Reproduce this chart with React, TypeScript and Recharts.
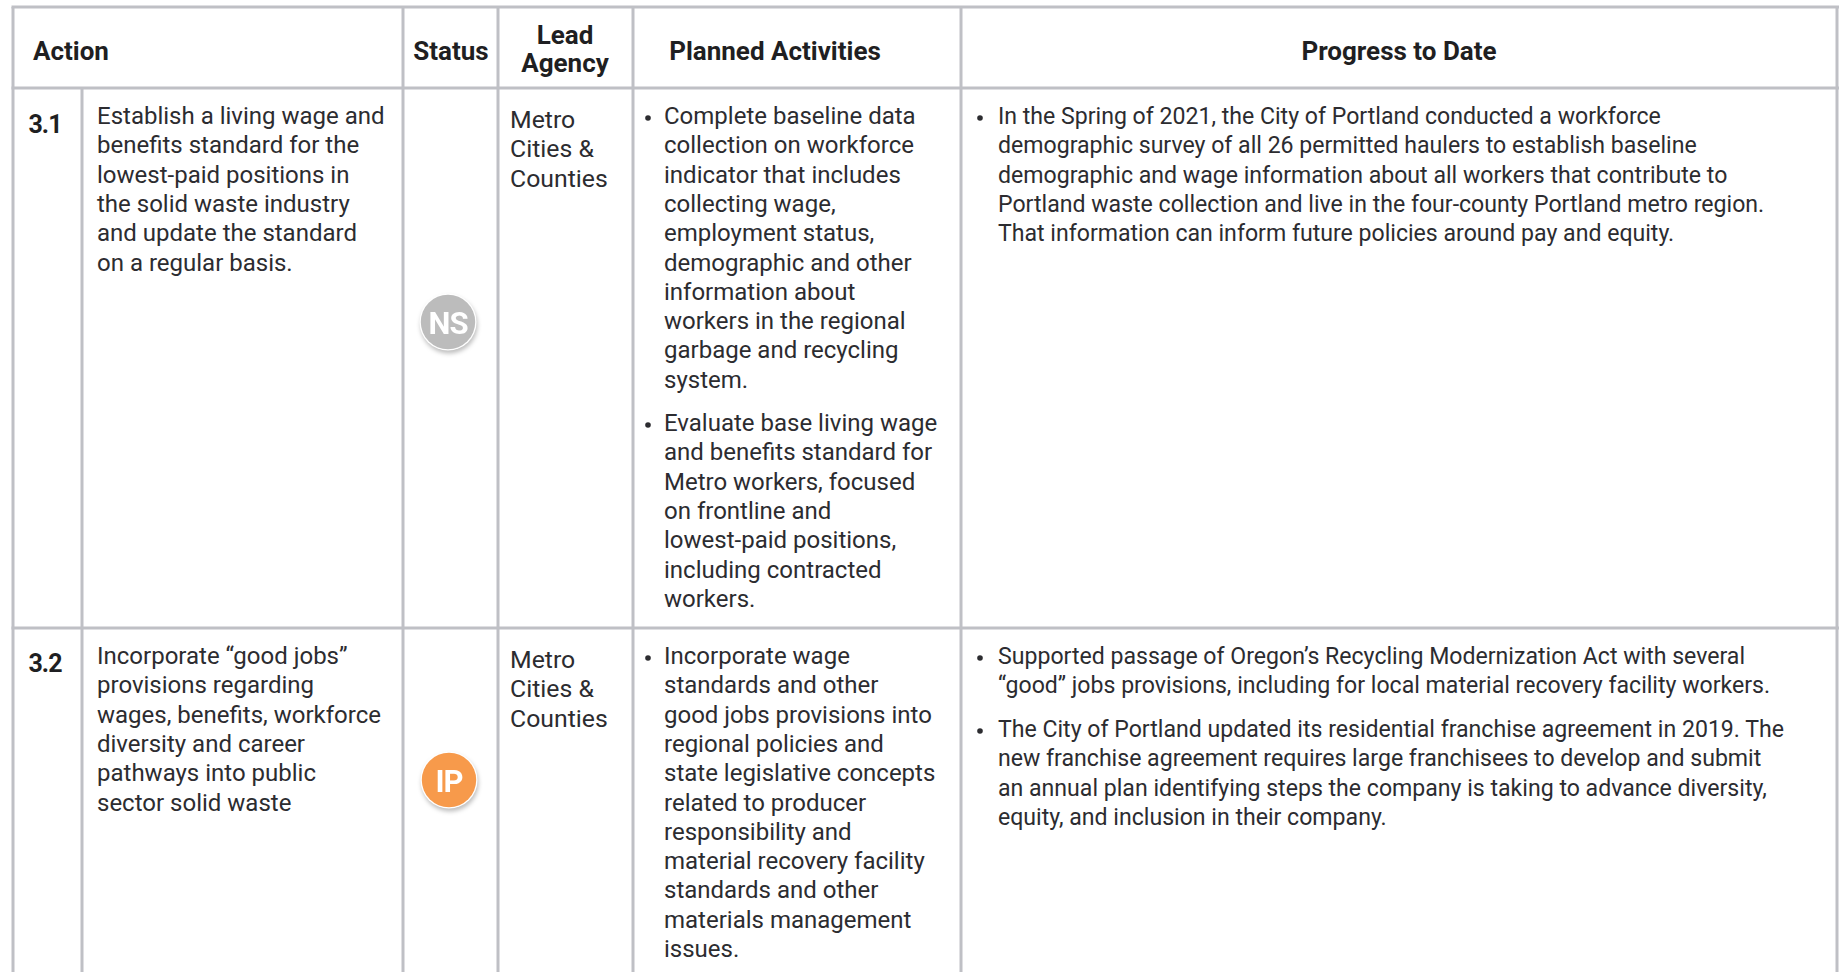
import React from 'react'
import { ComposedChart, Scatter, XAxis, YAxis, ReferenceLine } from 'recharts'

const W = 1839
const H = 972

// table text
const headers = ['Action', 'Status', 'Lead', 'Agency', 'Planned Activities', 'Progress to Date']
const rowIds = ['3.1', '3.2']
const statuses = ['NS', 'IP']
const agencyLines = ['Metro', 'Cities &', 'Counties']

const action31 = [
  'Establish a living wage and',
  'benefits standard for the',
  'lowest-paid positions in',
  'the solid waste industry',
  'and update the standard',
  'on a regular basis.',
]
const action32 = [
  'Incorporate “good jobs”',
  'provisions regarding',
  'wages, benefits, workforce',
  'diversity and career',
  'pathways into public',
  'sector solid waste',
]
const planned31a = [
  'Complete baseline data',
  'collection on workforce',
  'indicator that includes',
  'collecting wage,',
  'employment status,',
  'demographic and other',
  'information about',
  'workers in the regional',
  'garbage and recycling',
  'system.',
]
const planned31b = [
  'Evaluate base living wage',
  'and benefits standard for',
  'Metro workers, focused',
  'on frontline and',
  'lowest-paid positions,',
  'including contracted',
  'workers.',
]
const planned32 = [
  'Incorporate wage',
  'standards and other',
  'good jobs provisions into',
  'regional policies and',
  'state legislative concepts',
  'related to producer',
  'responsibility and',
  'material recovery facility',
  'standards and other',
  'materials management',
  'issues.',
]
const progress31 = [
  'In the Spring of 2021, the City of Portland conducted a workforce',
  'demographic survey of all 26 permitted haulers to establish baseline',
  'demographic and wage information about all workers that contribute to',
  'Portland waste collection and live in the four-county Portland metro region.',
  'That information can inform future policies around pay and equity.',
]
const progress32a = [
  'Supported passage of Oregon’s Recycling Modernization Act with several',
  '“good” jobs provisions, including for local material recovery facility workers.',
]
const progress32b = [
  'The City of Portland updated its residential franchise agreement in 2019. The',
  'new franchise agreement requires large franchisees to develop and submit',
  'an annual plan identifying steps the company is taking to advance diversity,',
  'equity, and inclusion in their company.',
]

// layout of the table
const colX = [13, 403, 498, 633, 961, 1837]
const idColX = 82
const rowY = [7, 88, 628]
const LINE = 29.3
const INK = '#2c2c30'
const RULE = '#bfc0c5'
const BODY = 'Roboto, sans-serif'

const block = (lines: string[], x: number, y: number, size: number) =>
  lines.map((text, i) => ({ x, y: y + i * LINE, text, size }))

const bodyPoints = [
  ...block(action31, 97, 124, 24),
  ...block(action32, 97, 664, 24),
  ...block(agencyLines, 510, 128, 24.8),
  ...block(agencyLines, 510, 668, 24.8),
  ...block(planned31a, 664, 124, 24),
  ...block(planned31b, 664, 431, 24),
  ...block(planned32, 664, 664, 24),
  ...block(progress31, 998, 124, 23.1),
  ...block(progress32a, 998, 664, 23.1),
  ...block(progress32b, 998, 737, 23.1),
]

const bulletPoints = [
  { x: 648, y: 118 },
  { x: 648, y: 425 },
  { x: 648, y: 658 },
  { x: 980, y: 118 },
  { x: 980, y: 658 },
  { x: 980, y: 731 },
]

const headerPoints = [
  { x: 33, y: 60, text: headers[0], anchor: 'start' },
  { x: 451, y: 60, text: headers[1], anchor: 'middle' },
  { x: 565, y: 44, text: headers[2], anchor: 'middle' },
  { x: 565, y: 72, text: headers[3], anchor: 'middle' },
  { x: 775, y: 60, text: headers[4], anchor: 'middle' },
  { x: 1399, y: 60, text: headers[5], anchor: 'middle' },
]

const idPoints = [
  { x: 45, y: 133, text: rowIds[0] },
  { x: 45, y: 672, text: rowIds[1] },
]

const badgePoints = [
  { x: 448, y: 322, text: statuses[0], fill: '#bcbcbc' },
  { x: 449, y: 780, text: statuses[1], fill: '#f79a4b' },
]

const BodyText = ({ cx, cy, payload }: any) => (
  <text x={cx} y={cy} fontFamily={BODY} fontSize={payload.size} fill={INK}>
    {payload.text}
  </text>
)

const HeaderText = ({ cx, cy, payload }: any) => (
  <text x={cx} y={cy} textAnchor={payload.anchor} fontFamily={BODY} fontWeight={700} fontSize={26} fill="#1f1f22">
    {payload.text}
  </text>
)

const IdText = ({ cx, cy, payload }: any) => (
  <text x={cx} y={cy} textAnchor="middle" fontFamily={BODY} fontWeight={700} fontSize={25} letterSpacing={-1} fill="#1f1f22">
    {payload.text}
  </text>
)

const Bullet = ({ cx, cy }: any) => <circle cx={cx} cy={cy} r={2.8} fill={INK} />

const Badge = ({ cx, cy, payload }: any) => (
  <g style={{ filter: 'drop-shadow(1px 3px 2px rgba(0,0,0,0.25))' }}>
    <circle cx={cx} cy={cy} r={28.5} fill="#ffffff" />
    <circle cx={cx} cy={cy} r={27.2} fill={payload.fill} />
    <text x={cx} y={cy + 11.5} textAnchor="middle" fontFamily={BODY} fontWeight={700} fontSize={31} letterSpacing={-1} fill="#ffffff">
      {payload.text}
    </text>
  </g>
)

export default function App() {
  return (
    <div style={{ position: 'absolute', left: 0, top: 0, width: W, height: H, background: '#fff' }}>
      <ComposedChart width={W} height={H} margin={{ top: 0, right: 0, bottom: 0, left: 0 }}>
        <XAxis type="number" dataKey="x" domain={[0, W]} hide />
        <YAxis type="number" dataKey="y" domain={[0, H]} reversed hide width={0} />

        {rowY.map((y) => (
          <ReferenceLine
            key={y}
            segment={[{ x: colX[0] - 1.5, y }, { x: W, y }]}
            stroke={RULE}
            strokeWidth={3}
          />
        ))}
        {colX.map((x) => (
          <ReferenceLine
            key={x}
            segment={[{ x, y: rowY[0] }, { x, y: H }]}
            stroke={RULE}
            strokeWidth={3}
          />
        ))}
        <ReferenceLine
          segment={[{ x: idColX, y: rowY[1] }, { x: idColX, y: H }]}
          stroke={RULE}
          strokeWidth={3}
        />

        <Scatter data={headerPoints} shape={HeaderText} isAnimationActive={false} />
        <Scatter data={idPoints} shape={IdText} isAnimationActive={false} />
        <Scatter data={bodyPoints} shape={BodyText} isAnimationActive={false} />
        <Scatter data={bulletPoints} shape={Bullet} isAnimationActive={false} />
        <Scatter data={badgePoints} shape={Badge} isAnimationActive={false} />
      </ComposedChart>
    </div>
  )
}
